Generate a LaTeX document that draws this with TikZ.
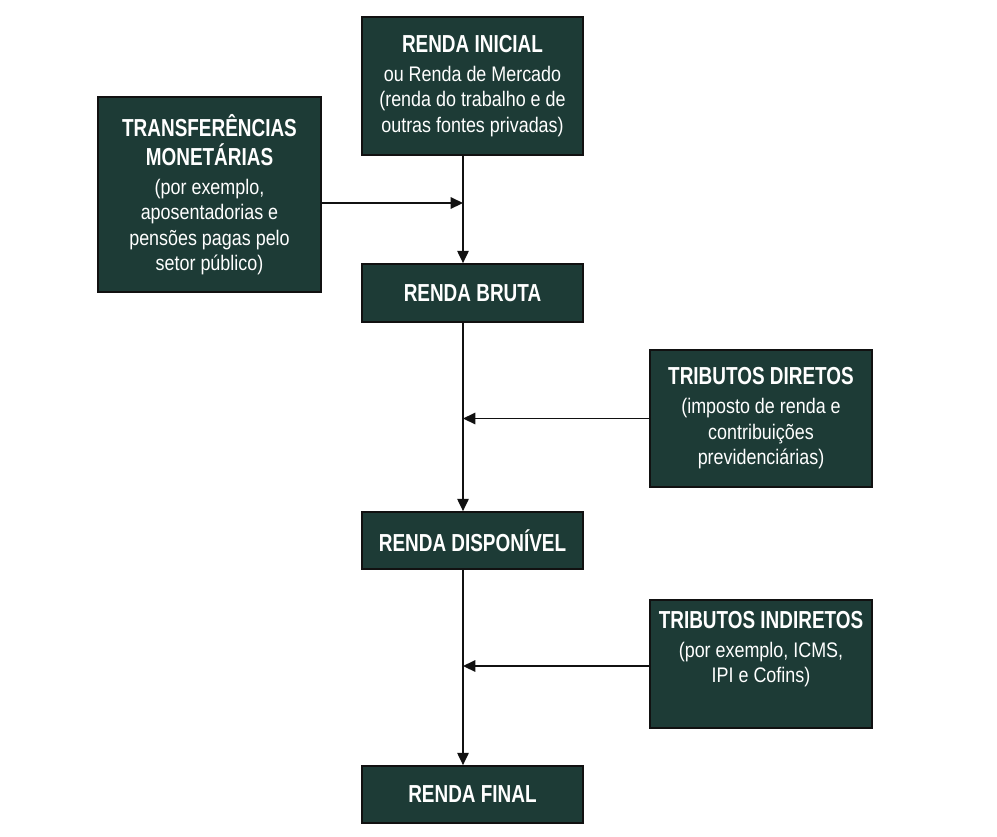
\documentclass[tikz,border=0pt]{standalone}
\usepackage{fontspec}
\setmainfont{Liberation Sans}
\newfontfamily\headfont{Liberation Sans}[FakeStretch=0.77]
\newfontfamily\notefont{Liberation Sans}[FakeStretch=0.85]
\usetikzlibrary{arrows.meta}
\definecolor{boxgreen}{HTML}{1D3B36}
\definecolor{ink}{HTML}{111111}
\newcommand{\hd}[1]{{\headfont\bfseries\fontsize{14}{17}\selectfont #1}}

\begin{document}
\begin{tikzpicture}[x=0.02cm,y=-0.02cm,
        box/.style={rectangle,draw=ink,line width=1pt,fill=boxgreen,
          text=white,inner sep=0pt,minimum width=4.42cm,align=center,
          font=\notefont\fontsize{12}{14.5}\selectfont},
        txt/.style={text=white,inner sep=0pt,align=center,
          font=\notefont\fontsize{12}{14.5}\selectfont},
        arr/.style={ink,line width=0.9pt,-{Triangle[length=7pt,width=6.5pt]}}]
        \useasboundingbox[fill=white] (0,0) rectangle (997,836);
        \node[box,minimum height=2.76cm] (ini) at (472.5,86)
          {\hd{RENDA INICIAL}\\[2pt] ou Renda de Mercado\\ (renda do trabalho e de\\ outras fontes privadas)};
        \node[box,minimum width=4.46cm,minimum height=3.9cm] (transf) at (209.5,194.5)
          {\hd{TRANSFERÊNCIAS}\\[2pt] \hd{MONETÁRIAS}\\[2pt] (por exemplo,\\ aposentadorias e\\ pensões pagas pelo\\ setor público)};
        \node[box,minimum height=1.16cm] (bruta) at (472.5,293) {\hd{RENDA BRUTA}};
        \node[box,minimum width=4.44cm,minimum height=2.74cm] (dir) at (761,418.5)
          {\hd{TRIBUTOS DIRETOS}\\[2pt] (imposto de renda e\\ contribuições\\ previdenciárias)};
        \node[box,minimum height=1.14cm] (disp) at (472.5,540.5) {\hd{RENDA DISPONÍVEL}};
        \node[box,minimum width=4.44cm,minimum height=2.56cm] (indir) at (761,664) {};
        \node[txt] (indirtxt) at (761,649)
          {\hd{TRIBUTOS INDIRETOS}\\[2pt] (por exemplo, ICMS,\\ IPI e Cofins)};
        \node[box,minimum height=1.14cm] (final) at (472.5,794.5) {\hd{RENDA FINAL}};
        % eixo vertical do fluxo
        \coordinate (axis) at (463,0);
        \coordinate (j1) at (463,203);
        \coordinate (j3) at (463,666);
        \draw[arr] (ini.south -| axis) -- (bruta.north -| axis);
        \draw[arr] (bruta.south -| axis) -- (disp.north -| axis);
        \draw[arr] (disp.south -| axis) -- (final.north -| axis);
        \draw[arr] (transf.east |- j1) -- (j1);
        \draw[arr] (dir.west) -- (dir.west -| axis);
        \draw[arr] (indir.west |- j3) -- (j3);
      \end{tikzpicture}
\end{document}
